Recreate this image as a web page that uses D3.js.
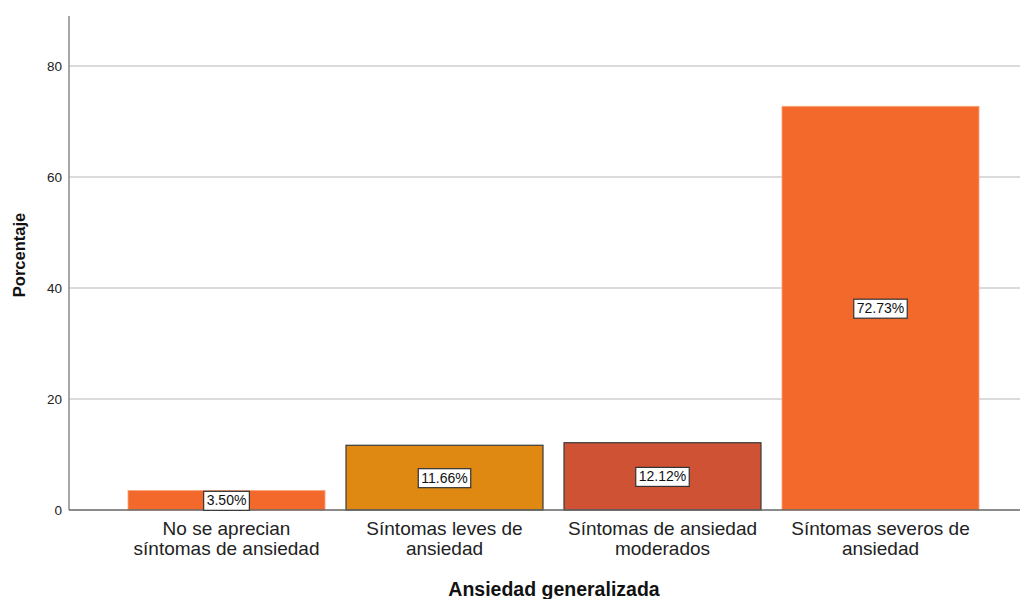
<!DOCTYPE html>
<html>
<head>
<meta charset="utf-8">
<script src="https://cdn.jsdelivr.net/npm/d3@7"></script>
<style>
    body { margin: 0; background: #fff; }
    svg text { font-family: Arial, "Liberation Sans", sans-serif; }
</style>
</head>
<body>
<div id="chart"></div>
<script>
// data
const categories = [
    ['No se aprecian', 'síntomas de ansiedad'],
    ['Síntomas leves de', 'ansiedad'],
    ['Síntomas de ansiedad', 'moderados'],
    ['Síntomas severos de', 'ansiedad'],
];
const percentages = [3.50, 11.66, 12.12, 72.73];
const barColors = ['#f3692b', '#e08912', '#d05234', '#f3692b'];
const barOutlined = [false, true, true, false];
const yTicks = [0, 20, 40, 60, 80];

const width = 1023;
const height = 599;
const plot = { left: 69, right: 1020, top: 16, bottom: 510 };

const svg = d3.select('#chart')
    .append('svg')
    .attr('width', width)
    .attr('height', height);

const keys = categories.map((c, i) => i);

const x = d3.scaleBand()
    .domain(keys)
    .range([117.5, 989.5])
    .paddingInner(0.0963)
    .paddingOuter(0.0482);

const y = d3.scaleLinear()
    .domain([0, 89])
    .range([plot.bottom, plot.top]);

// gridlines
svg.append('g')
    .selectAll('line')
    .data(yTicks.filter(t => t > 0))
    .enter()
    .append('line')
    .attr('x1', plot.left)
    .attr('x2', plot.right)
    .attr('y1', d => y(d))
    .attr('y2', d => y(d))
    .attr('stroke', '#cfcfcf')
    .attr('stroke-width', 1.5);

// y axis
svg.append('g')
    .attr('transform', `translate(${plot.left},0)`)
    .call(d3.axisLeft(y).tickValues(yTicks).tickSize(0).tickPadding(7).tickFormat(d3.format('d')))
    .call(g => g.select('.domain').attr('stroke', '#8a8a8a').attr('stroke-width', 1.5)
        .attr('d', `M0,${plot.top}V${plot.bottom}`))
    .call(g => g.selectAll('text').attr('font-size', 13.5).attr('fill', '#222'));

// bars
svg.append('g')
    .selectAll('rect')
    .data(percentages)
    .enter()
    .append('rect')
    .attr('x', (d, i) => x(i))
    .attr('y', d => y(d))
    .attr('width', x.bandwidth())
    .attr('height', d => y(0) - y(d))
    .attr('fill', (d, i) => barColors[i])
    .attr('stroke', (d, i) => barOutlined[i] ? '#3a3a3a' : '#f7a27a')
    .attr('stroke-width', (d, i) => barOutlined[i] ? 1.2 : 0.8);

// baseline
svg.append('line')
    .attr('x1', plot.left)
    .attr('x2', plot.right)
    .attr('y1', y(0))
    .attr('y2', y(0))
    .attr('stroke', '#666')
    .attr('stroke-width', 1.5);

// value labels
const labels = svg.append('g')
    .selectAll('g')
    .data(percentages)
    .enter()
    .append('g')
    .attr('transform', (d, i) => `translate(${x(i) + x.bandwidth() / 2},${(y(d) + y(0)) / 2})`);

labels.append('text')
    .attr('text-anchor', 'middle')
    .attr('dy', '0.36em')
    .attr('font-size', 14)
    .attr('fill', '#111')
    .text(d => d.toFixed(2) + '%');

labels.each(function () {
    const g = d3.select(this);
    const bb = g.select('text').node().getBBox();
    g.insert('rect', 'text')
        .attr('x', bb.x - 3)
        .attr('y', bb.y - 1)
        .attr('width', bb.width + 6)
        .attr('height', bb.height + 3)
        .attr('fill', '#fff')
        .attr('stroke', '#333')
        .attr('stroke-width', 1.2);
});

// category labels
const cat = svg.append('g')
    .selectAll('text')
    .data(categories)
    .enter()
    .append('text')
    .attr('x', (d, i) => x(i) + x.bandwidth() / 2)
    .attr('y', 535)
    .attr('text-anchor', 'middle')
    .attr('font-size', 19)
    .attr('fill', '#222');

cat.selectAll('tspan')
    .data(d => d)
    .enter()
    .append('tspan')
    .attr('x', function () { return d3.select(this.parentNode).attr('x'); })
    .attr('dy', (d, i) => i === 0 ? 0 : 20)
    .text(d => d);

// axis titles
svg.append('text')
    .attr('x', 554)
    .attr('y', 596)
    .attr('text-anchor', 'middle')
    .attr('font-size', 19.5)
    .attr('font-weight', 'bold')
    .attr('fill', '#111')
    .text('Ansiedad generalizada');

svg.append('text')
    .attr('transform', 'translate(25,255) rotate(-90)')
    .attr('text-anchor', 'middle')
    .attr('font-size', 16.5)
    .attr('font-weight', 'bold')
    .attr('fill', '#111')
    .text('Porcentaje');
</script>
</body>
</html>
